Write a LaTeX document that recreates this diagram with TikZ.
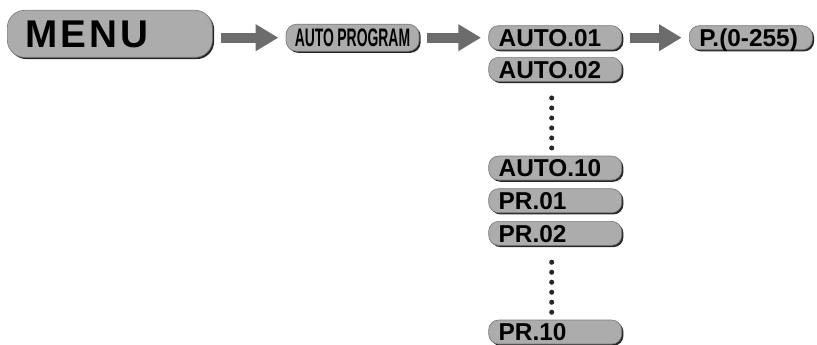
\documentclass[tikz,border=0pt]{standalone}
\usepackage{fontspec}
\setmainfont{Liberation Sans}
\newfontfamily\menufont[LetterSpace=8]{Liberation Sans}
\newfontfamily\narrowfont[FakeStretch=0.55]{Liberation Sans}
\usetikzlibrary{positioning, shadows, arrows.meta}
\definecolor{boxgray}{RGB}{172,172,172}
\definecolor{rimgray}{RGB}{125,125,125}
\definecolor{arrowgray}{RGB}{108,108,108}
\tikzset{
	menunode/.style = {rectangle, fill=boxgray, draw=rimgray, line width=0.5pt, drop shadow={shadow xshift=1.3pt, shadow yshift=-1.3pt, fill=black!85, opacity=1}, inner ysep=0pt, text depth=0pt},
	menubox/.style = {menunode, rounded corners=13pt, minimum height=35.25pt, text width=126.75pt, inner xsep=13.5pt, text height=20.5pt, align=left, font=\menufont\bfseries\fontsize{29}{32}\selectfont},
	itembox/.style = {menunode, rounded corners=7.5pt, minimum height=18pt, text width=84.75pt, inner xsep=7.5pt, text height=13pt, align=left, font=\bfseries\fontsize{18.3}{20}\selectfont},
	progbox/.style = {menunode, rounded corners=8pt, minimum height=20.25pt, text width=94.75pt, inner xsep=2.5pt, text height=13.6pt, align=center, font=\narrowfont\bfseries\fontsize{19}{21}\selectfont},
	rangebox/.style = {itembox, text width=77.25pt},
	blockarrow/.style = {draw=arrowgray, line width=7.5pt, -{Triangle[length=17pt, width=19pt]}, shorten <=6pt, shorten >=5.5pt},
	dotline/.style = {draw=black!85, line width=3.8pt, line cap=round, dash pattern=on 0pt off 7.5pt}
}

\begin{document}
\begin{tikzpicture}
	\useasboundingbox (0pt,0pt) rectangle (612.75pt,-258.75pt);
	% top row
	\node (menu) [menubox, anchor=north west] at (5.25pt,-7.5pt) {MENU};
	\node (autoprog) [progbox, right=54.75pt of menu, yshift=-2.9pt] {AUTO\hspace{2.5pt}PROGRAM};
	\node (auto01) [itembox, right=51.75pt of autoprog] {AUTO.01};
	\node (range) [rangebox, right=50.25pt of auto01] {P.(0-255)};
	% program column
	\node (auto02) [itembox, below=5.25pt of auto01] {AUTO.02};
	\node (auto10) [itembox, below=55.5pt of auto02] {AUTO.10};
	\node (pr01) [itembox, below=6pt of auto10] {PR.01};
	\node (pr02) [itembox, below=6pt of pr01] {PR.02};
	\node (pr10) [itembox, below=55.5pt of pr02] {PR.10};

	% arrows
	\path [blockarrow] (menu.east |- autoprog.west) -- (autoprog.west);
	\path [blockarrow] (autoprog) -- (auto01);
	\path [blockarrow] (auto01) -- (range);
	% dots
	\path [dotline, shorten <=12.2pt, shorten >=5.5pt] ([xshift=-2.6pt]auto02.south) -- ([xshift=-2.6pt]auto10.north);
	\path [dotline, shorten <=12.4pt, shorten >=5.5pt] ([xshift=-2.6pt]pr02.south) -- ([xshift=-2.6pt]pr10.north);
\end{tikzpicture}
\end{document}
